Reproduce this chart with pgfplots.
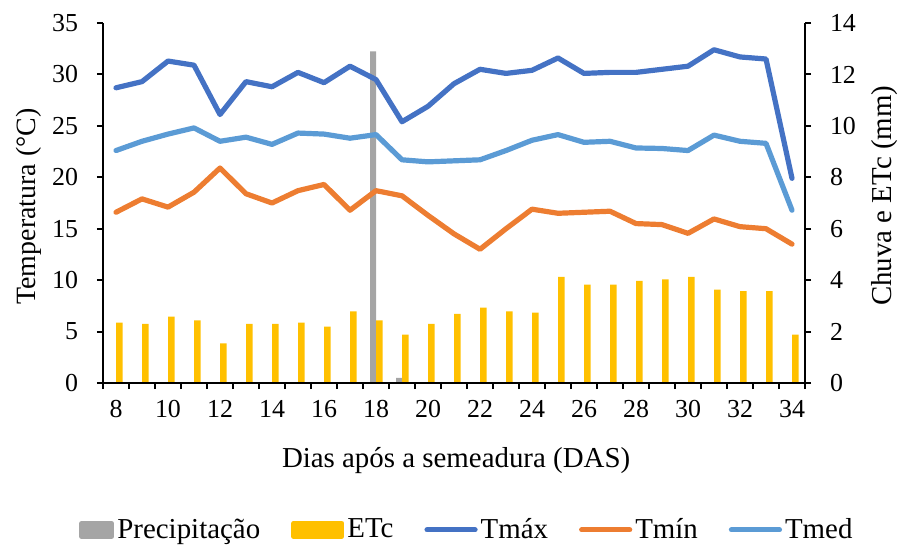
\documentclass[border=0pt]{standalone}
\usepackage{pgfplots}
\usepackage{pgfplotstable}
\pgfplotsset{compat=1.18}
\usepackage{fontspec}
\setmainfont{Liberation Serif}
\definecolor{tmax}{HTML}{4472C4}
\definecolor{tmin}{HTML}{ED7D31}
\definecolor{tmed}{HTML}{5B9BD5}
\definecolor{etcc}{HTML}{FFC000}
\definecolor{prec}{HTML}{A5A5A5}

\pgfplotstableread{
d tmax tmin tmed
8 28.7 16.6 22.6
9 29.3 17.9 23.5
10 31.3 17.1 24.2
11 30.9 18.55 24.8
12 26.1 20.9 23.5
13 29.3 18.4 23.9
14 28.8 17.5 23.2
15 30.2 18.7 24.3
16 29.2 19.3 24.2
17 30.8 16.8 23.8
18 29.5 18.7 24.15
19 25.4 18.2 21.7
20 26.9 16.3 21.5
21 29.1 14.5 21.6
22 30.5 13.0 21.7
23 30.1 15.0 22.6
24 30.4 16.9 23.6
25 31.6 16.5 24.15
26 30.1 16.6 23.4
27 30.2 16.7 23.5
28 30.2 15.5 22.85
29 30.5 15.4 22.8
30 30.8 14.55 22.6
31 32.4 15.95 24.1
32 31.7 15.2 23.5
33 31.5 15.0 23.3
34 19.9 13.5 16.8
}\temps

\pgfplotstableread{
d prec etc
8 0 2.35
9 0 2.30
10 0 2.58
11 0 2.44
12 0 1.54
13 0 2.30
14 0 2.30
15 0 2.35
16 0 2.19
17 0 2.79
18 12.9 2.44
19 0.2 1.88
20 0 2.30
21 0 2.69
22 0 2.93
23 0 2.79
24 0 2.74
25 0 4.13
26 0 3.83
27 0 3.83
28 0 3.97
29 0 4.03
30 0 4.13
31 0 3.63
32 0 3.57
33 0 3.57
34 0 1.88
}\water

\pgfplotsset{
  common/.style={
    scale only axis, width=351bp, height=180bp,
    xmin=7.5, xmax=34.5, ymin=0,
    axis line style={line width=1bp, black},
    tick style={line width=1bp, black},
    major tick length=3bp, minor tick length=3bp,
    tick align=outside,
    tick label style={font=\fontsize{13}{15}\selectfont},
    label style={font=\fontsize{14.5}{17}\selectfont},
    /pgf/number format/assume math mode=true,
  }
}

\begin{document}
\begin{tikzpicture}
\useasboundingbox (-51.5bp,-81.5bp) rectangle (398.5bp,191.5bp);
% bars: right axis
\begin{axis}[common,
  ymax=14,
  axis x line=none, axis y line*=right,
  ytick={0,2,...,14},
  yticklabel style={xshift=6bp},
  ylabel={Chuva e ETc (mm)},
  ylabel style={at={(axis description cs:1.114,0.52)}, anchor=center, rotate=0},
]
\addplot[ybar, bar width=3bp, bar shift=-1.5bp, fill=prec, draw=none] table[x=d,y=prec]{\water};
\addplot[ybar, bar width=3.3bp, bar shift=1.65bp, fill=etcc, draw=none] table[x=d,y=etc]{\water};
\end{axis}
% lines: left axis
\begin{axis}[common,
  ymax=35,
  axis x line*=bottom, axis y line*=left,
  ytick={0,5,...,35},
  yticklabel style={xshift=-6bp},
  xtick={8,10,...,34},
  minor xtick={7.5,8.5,...,34.5},
  major x tick style={draw=none},
  xticklabel style={yshift=-2bp},
  xlabel={Dias após a semeadura (DAS)},
  xlabel style={at={(axis description cs:0.503,-0.214)}, anchor=center},
  ylabel={Temperatura (°C)},
  ylabel style={at={(axis description cs:-0.106,0.49)}, anchor=center, font=\fontsize{14}{16}\selectfont},
  legend columns=5,
  legend style={draw=none, fill=none, at={(axis description cs:0.519,-0.408)}, anchor=center,
    font=\fontsize{14.5}{17}\selectfont,
    /tikz/every even column/.append style={column sep=14bp},
    /tikz/every odd column/.append style={column sep=0bp},
    nodes={inner sep=1.5bp}},
  every axis plot/.append style={line width=2.6bp, line join=round, line cap=round},
]
\addlegendimage{legend image code/.code={\fill[prec] (0bp,-3.2bp) rectangle (15bp,3.2bp);}}
\addlegendentry{Precipitação}
\addlegendimage{legend image code/.code={\fill[etcc] (0bp,-3.3bp) rectangle (24bp,3.3bp);}}
\addlegendentry{ETc}
\addplot[tmax, mark=none, legend image code/.code={\draw[tmax, line width=2.6bp, line cap=round] (0bp,0bp) -- (24bp,0bp);}] table[x=d,y=tmax]{\temps};
\addlegendentry{Tmáx}
\addplot[tmin, mark=none, legend image code/.code={\draw[tmin, line width=2.6bp, line cap=round] (0bp,0bp) -- (24bp,0bp);}] table[x=d,y=tmin]{\temps};
\addlegendentry{Tmín}
\addplot[tmed, mark=none, legend image code/.code={\draw[tmed, line width=2.6bp, line cap=round] (0bp,0bp) -- (24bp,0bp);}] table[x=d,y=tmed]{\temps};
\addlegendentry{Tmed}
\end{axis}
\end{tikzpicture}
\end{document}
